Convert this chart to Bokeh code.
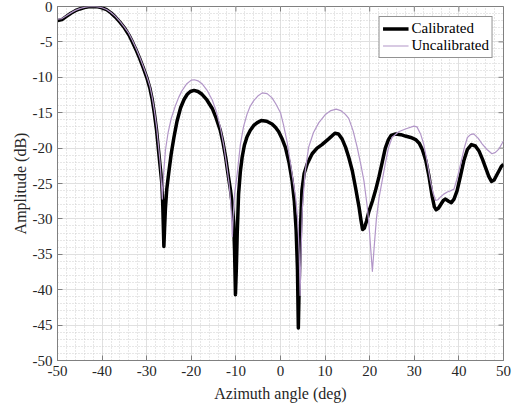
import math
from bokeh.plotting import figure
from bokeh.models import Range1d, FixedTicker, Legend, LegendItem, ColumnDataSource
from bokeh.embed import file_html
from bokeh.resources import INLINE

FONT = "Liberation Serif"

x_ticks = [-50, -40, -30, -20, -10, 0, 10, 20, 30, 40, 50]
x_labels = ["-50", "-40", "-30", "-20", "-10", "0", "10", "20", "30", "40", "50"]
x_minor = list(range(-50, 51, 2))
y_ticks = [-50, -45, -40, -35, -30, -25, -20, -15, -10, -5, 0]
y_labels = ["-50", "-45", "-40", "-35", "-30", "-25", "-20", "-15", "-10", "-5", "0"]
y_minor = list(range(-50, 1, 1))
x_lim = (-50, 50)
y_lim = (-50, 0)

cal_x = [-50, -49, -48, -47, -46, -45, -44, -43, -42, -41, -40, -39, -38, -37, -36, -35, -34,
         -33.2, -32.4, -31.6, -30.8, -30, -29.3, -28.8, -28.3, -27.8, -27.4, -27.0, -26.6, -26.4,
         -26.25, -26.15, -26.0, -25.8, -25.5, -25.0, -24.5, -23.9, -23.2, -22.4, -21.6, -20.9,
         -20.2, -19.4, -18.5, -17.6, -16.5, -15.3, -14.4, -13.5, -12.9, -12.3, -11.8, -11.2,
         -10.8, -10.5, -10.3, -10.1, -9.9, -9.7, -9.4, -9.0, -8.6, -8.1, -7.5, -6.8, -6.0, -5.2,
         -4.3, -3.1, -1.9, -1.1, -0.4, 0.3, 1.1, 1.9, 2.6, 3.1, 3.5, 3.8, 4.0, 4.2, 4.5, 4.8,
         5.3, 6.0, 7.1, 8.2, 9.3, 10.8, 12.2, 13.0, 13.8, 14.6, 15.3, 16.1, 16.8, 17.6, 18.0,
         18.4, 18.8, 19.3, 19.8, 20.6, 21.3, 22.1, 22.8, 23.5, 24.2, 24.8, 25.8, 27.0, 28.0,
         29.2, 30.3, 31.1, 31.8, 32.6, 33.3, 34.0, 34.5, 34.9, 35.4, 35.9, 36.5, 37.0, 37.7,
         38.3, 38.9, 39.6, 40.4, 41.1, 41.9, 42.8, 43.7, 44.5, 45.3, 46.0, 46.7, 47.3, 47.9,
         48.4, 49.0, 49.5, 50.0]
cal_y = [-2.0, -1.85, -1.4, -0.95, -0.6, -0.35, -0.15, -0.05, 0.0, -0.05, -0.2, -0.45, -0.9,
         -1.5, -2.2, -3.0, -4.0, -5.0, -6.1, -7.3, -8.6, -10.0, -11.5, -13.0, -15.0, -17.4,
         -20.0, -22.5, -25.0, -28.0, -31.5, -33.9, -31.5, -28.5, -25.8, -23.2, -20.8, -18.5,
         -16.2, -14.3, -13.1, -12.4, -12.0, -11.85, -12.0, -12.4, -13.2, -14.4, -15.8, -17.5,
         -19.2, -21.3, -23.5, -26.0, -28.0, -30.5, -34.5, -40.7, -37.0, -32.0, -26.5, -23.3,
         -21.3, -19.6, -18.4, -17.5, -16.8, -16.4, -16.1, -16.2, -16.6, -17.1, -17.7, -18.6,
         -19.9, -22.0, -24.6, -27.5, -31.5, -37.0, -45.4, -39.0, -31.0, -26.0, -23.6, -22.2,
         -20.8, -20.0, -19.5, -18.7, -17.9, -18.0, -18.7, -19.9, -21.3, -23.2, -25.5, -28.3,
         -30.0, -31.5, -31.3, -30.3, -29.0, -27.5, -26.0, -24.0, -22.0, -20.0, -18.8, -18.2,
         -18.0, -18.1, -18.3, -18.5, -18.8, -19.3, -20.2, -21.8, -24.0, -26.8, -28.3, -28.7,
         -28.5, -28.0, -27.4, -27.2, -27.5, -27.7, -27.2, -26.0, -23.8, -21.8, -20.2, -19.5,
         -19.7, -20.4, -21.6, -22.8, -24.0, -24.7, -24.5, -23.9, -23.2, -22.6, -22.3]

unc_x = [-50, -49, -48, -47, -46, -45, -44, -43, -42, -41, -40, -39, -38, -37, -36, -35, -34,
         -33.2, -32.4, -31.6, -30.8, -30, -29.3, -28.8, -28.3, -27.8, -27.4, -27.0, -26.8,
         -26.6, -26.5, -26.2, -25.8, -25.2, -24.5, -23.5, -22.8, -22.0, -21.0, -20.0, -19.3,
         -18.5, -17.6, -16.5, -15.3, -14.4, -13.5, -12.7, -12.0, -11.5, -11.2, -11.0, -10.8,
         -10.6, -10.3, -9.7, -9.0, -8.3, -7.5, -6.8, -6.0, -5.0, -4.1, -3.0, -1.9, -1.1, 0.0,
         0.7, 1.5, 2.2, 2.8, 3.4, 3.9, 4.2, 4.4, 4.6, 4.9, 5.5, 6.3, 7.4, 8.6, 10.0, 11.3, 12.5,
         13.5, 14.5, 15.3, 16.3, 17.2, 18.0, 18.7, 19.4, 19.8, 20.2, 20.6, 21.0, 21.5, 22.1,
         22.8, 23.5, 24.2, 25.0, 26.5, 28.0, 29.9, 30.6, 31.4, 32.1, 32.9, 33.6, 34.2, 34.8,
         35.3, 35.9, 36.6, 37.4, 38.2, 38.9, 39.6, 40.4, 41.2, 41.9, 42.6, 43.3, 44.3, 45.2,
         46.3, 47.4, 48.2, 49.0, 50.0]
unc_y = [-1.8, -1.7, -1.3, -0.9, -0.55, -0.3, -0.12, -0.02, 0.0, -0.05, -0.18, -0.42, -0.85,
         -1.4, -2.1, -2.9, -3.8, -4.8, -5.9, -7.1, -8.4, -9.8, -11.2, -12.7, -14.6, -16.9,
         -19.4, -22.0, -24.0, -26.0, -27.2, -23.5, -20.3, -17.8, -15.8, -13.9, -12.8, -11.8,
         -10.9, -10.4, -10.35, -10.5, -10.9, -11.8, -13.2, -14.8, -17.0, -19.7, -22.7, -25.2,
         -27.4, -29.5, -32.5, -29.5, -26.5, -23.6, -19.5, -17.0, -15.2, -14.1, -13.3, -12.6,
         -12.2, -12.3, -12.9, -13.7, -15.0, -16.8, -19.2, -22.0, -24.5, -27.0, -30.5, -35.0,
         -40.8, -35.0, -28.5, -23.5, -19.9, -17.8, -16.4, -15.3, -14.7, -14.5, -14.7, -15.2,
         -15.8, -17.6, -19.9, -22.3, -24.6, -28.0, -30.5, -34.0, -37.4, -34.0, -30.0, -27.0,
         -24.6, -22.2, -20.0, -18.5, -17.7, -17.3, -16.9, -17.0, -18.0, -19.4, -22.0, -24.6,
         -26.3, -27.4, -27.3, -26.9, -26.5, -26.2, -26.0, -25.8, -24.3, -22.2, -20.0, -18.5,
         -18.1, -18.0, -18.6, -19.4, -20.2, -20.8, -20.6, -20.1, -19.0]

AX = "#808080"
TXT = "#262626"

p = figure(width=516, height=406, x_range=Range1d(*x_lim), y_range=Range1d(*y_lim),
           output_backend="svg", toolbar_location=None,
           min_border_left=57, min_border_right=13, min_border_top=6, min_border_bottom=46)
p.background_fill_color = "white"
p.border_fill_color = "white"
p.outline_line_color = AX

xt = FixedTicker(ticks=x_ticks, minor_ticks=x_minor)
yt = FixedTicker(ticks=y_ticks, minor_ticks=y_minor)

for ax, t, labs, ticks in ((p.xaxis[0], xt, x_labels, x_ticks), (p.yaxis[0], yt, y_labels, y_ticks)):
    ax.ticker = t
    ax.major_label_overrides = {v: s for v, s in zip(ticks, labs)}
    ax.major_label_text_font = FONT
    ax.major_label_text_font_size = "15px"
    ax.major_label_text_color = TXT
    ax.axis_label_text_font = FONT
    ax.axis_label_text_font_size = "16px"
    ax.axis_label_text_font_style = "normal"
    ax.axis_label_text_color = TXT
    ax.axis_line_color = AX
    ax.major_tick_line_color = AX
    ax.major_tick_in = 5
    ax.major_tick_out = 0
    ax.minor_tick_in = 0
    ax.minor_tick_out = 0
    ax.major_label_standoff = 5

p.xaxis[0].axis_label = "Azimuth angle (deg)"
p.xaxis[0].axis_label_standoff = 6
p.yaxis[0].axis_label = "Amplitude (dB)"
p.yaxis[0].axis_label_standoff = 1

p.xgrid.ticker = xt
p.ygrid.ticker = yt
for g in (p.xgrid[0], p.ygrid[0]):
    g.grid_line_color = "#e0e0e0"
    g.grid_line_width = 1
    g.minor_grid_line_color = "#cfcfcf"
    g.minor_grid_line_dash = "1 2"
    g.minor_grid_line_width = 1

# tick marks on the top and right edges of the box (MATLAB style)
p.ray(x=x_ticks, y=[y_lim[1]] * len(x_ticks), length=5, length_units="screen",
      angle=-math.pi / 2, line_color=AX, line_width=1)
p.ray(x=[x_lim[1]] * len(y_ticks), y=y_ticks, length=5, length_units="screen",
      angle=math.pi, line_color=AX, line_width=1)

src_c = ColumnDataSource(dict(x=cal_x, y=cal_y))
src_u = ColumnDataSource(dict(x=unc_x, y=unc_y))
r1 = p.line("x", "y", source=src_c, line_color="black", line_width=3.5, line_join="round")
r2 = p.line("x", "y", source=src_u, line_color="#b296c8", line_width=1.2, line_join="round")

legend = Legend(items=[LegendItem(label="Calibrated", renderers=[r1]),
                       LegendItem(label="Uncalibrated", renderers=[r2])],
                location="top_right", label_text_font=FONT, label_text_font_size="15px",
                label_text_color="black", border_line_color="#262626", border_line_width=1,
                background_fill_color="white", background_fill_alpha=1,
                glyph_width=26, glyph_height=17, label_height=17, spacing=0, padding=3,
                margin=10, label_standoff=3)
p.add_layout(legend)

open("out.html", "w").write(file_html(p, INLINE))
